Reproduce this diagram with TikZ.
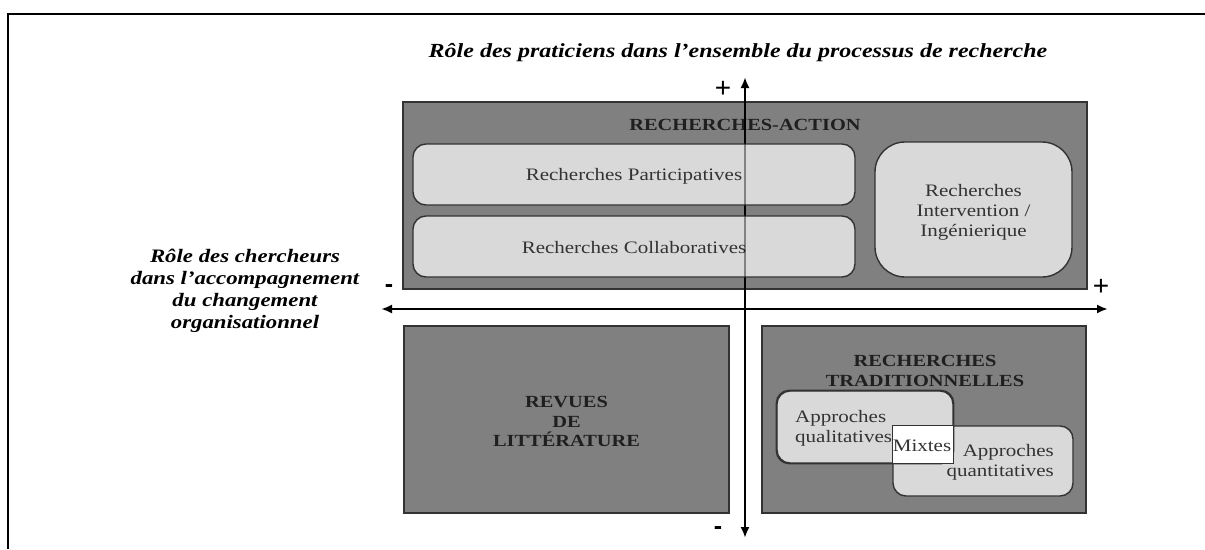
\documentclass[tikz,border=0pt]{standalone}
\usepackage{fontspec}
\setmainfont{Liberation Serif}[FakeStretch=1.2]
\newfontfamily\signfont{Liberation Sans}
\usetikzlibrary{arrows.meta}
\definecolor{boxdark}{HTML}{808080}
\definecolor{boxlight}{HTML}{D9D9D9}
\definecolor{edgedark}{HTML}{333333}
\definecolor{txtgray}{HTML}{333333}
\begin{document}
\begin{tikzpicture}[x=1pt,y=-1pt,
  darkbox/.style={draw=edgedark, line width=1.1pt, fill=boxdark, inner sep=0pt},
  lightbox/.style={draw=edgedark, line width=1.4pt, fill=boxlight, rounded corners=13pt, inner sep=0pt},
  boxtext/.style={font=\fontsize{17.5}{20}\selectfont, text=txtgray, inner sep=0pt},
  headtext/.style={font=\fontsize{17}{19.5}\selectfont\bfseries, text=black!88, align=center, inner sep=0pt},
  axislabel/.style={font=\fontsize{19}{22}\selectfont\bfseries\itshape, align=center, inner sep=0pt},
  sign/.style={font=\signfont\fontsize{28}{28}\selectfont, inner sep=0pt},
  minussign/.style={font=\signfont\bfseries\fontsize{25}{25}\selectfont, inner sep=0pt},
  axis/.style={line width=2.4pt, {Latex[length=11pt,width=9pt]}-{Latex[length=11pt,width=9pt]}}
]
\useasboundingbox (0,0) rectangle (1205,549);
\fill[white] (0,0) rectangle (1205,549);
\draw[line width=2.5pt] (8,549) -- (8,14) -- (1205,14);

% titles of axes
\node[axislabel, font=\fontsize{20}{24}\selectfont\bfseries\itshape] (title) at (738,53)
  {Rôle des praticiens dans l’ensemble du processus de recherche};
\node[axislabel] (leftlab) at (245,291)
  {Rôle des chercheurs\\dans l’accompagnement\\du changement\\organisationnel};

% upper quadrant
\node[darkbox, minimum width=684pt, minimum height=187pt] (ra) at (745,195.5) {};
\node[headtext] (raTitle) at (745,125) {RECHERCHES-ACTION};

% lower quadrants
\node[darkbox, minimum width=325pt, minimum height=187pt] (rev) at (566.5,419.5) {};
\node[headtext] (revText) at (566.5,421.5) {REVUES\\DE\\LITTÉRATURE};
\node[darkbox, minimum width=324pt, minimum height=187pt] (trad) at (924,419.5) {};
\node[headtext] (tradTitle) at (925,371) {RECHERCHES\\TRADITIONNELLES};

% axes
\coordinate (vtop) at (745,77);
\coordinate (vbot) at (745,538);
\coordinate (hleft) at (381,309);
\coordinate (hright) at (1108,309);
\draw[axis] (vbot) -- (vtop);
\draw[axis] (hleft) -- (hright);

% boxes of the upper quadrant
\node[lightbox, minimum width=442pt, minimum height=61pt] (part) at (634,174.5) {};
\node[boxtext] (partText) at (634,176) {Recherches Participatives};
\node[lightbox, minimum width=442pt, minimum height=61pt] (coll) at (634,246.5) {};
\node[boxtext] (collText) at (634,248) {Recherches Collaboratives};
\node[lightbox, rounded corners=30pt, minimum width=197pt, minimum height=135pt] (interv) at (973.5,209.5) {};
\node[boxtext, align=center] (intervText) at (973.5,212) {Recherches\\Intervention /\\Ingénierique};

% axis seen through the light boxes
\draw[line width=2.4pt, black, opacity=0.4] (ra.north) -- (ra.south);

% boxes of the traditional research
\node[lightbox, minimum width=176pt, minimum height=72pt] (qual) at (865,427) {};
\node[lightbox, minimum width=180pt, minimum height=70pt] (quant) at (983,461) {};
\draw[edgedark, line width=1.4pt, rounded corners=13pt] (qual.north west) rectangle (qual.south east);
\draw[edgedark, line width=1.2pt, fill=white] (quant.north west) rectangle (qual.south east);
\node[boxtext, align=left, anchor=west] (qualText) at (795,428) {Approches\\qualitatives};
\node[boxtext, align=right, anchor=east] (quantText) at (1054,462.5) {Approches\\quantitatives};
\node[boxtext] (mixText) at (922,446) {Mixtes};

% signs
\node[sign] (plusTop) at (723,89) {+};
\node[sign] (plusRight) at (1101,287) {+};
\node[minussign] (minusLeft) at (389,289) {-};
\node[minussign] (minusBottom) at (718,531) {-};
\end{tikzpicture}
\end{document}
